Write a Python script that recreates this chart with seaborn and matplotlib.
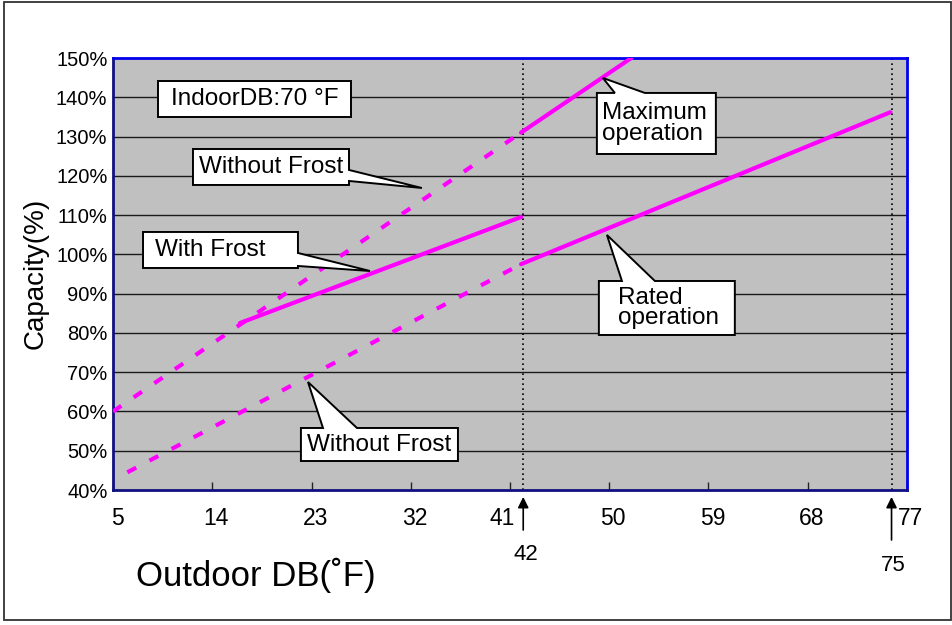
import numpy as np
import pandas as pd
import matplotlib
matplotlib.use('Agg')
import matplotlib.pyplot as plt
import matplotlib.transforms as mtransforms
from matplotlib.patches import Polygon, Rectangle
import seaborn as sns

# ---------data
with_frost_x = [16.5, 42]
with_frost_y = [82.5, 109.5]
max_wo_frost_x = [5, 42]          # dashed, extends the maximum line
max_wo_frost_y = [60, 131]
max_op_x = [42, 52]
max_op_y = [131, 150]
rated_wo_frost_x = [6.3, 42]      # dashed, lower
rated_wo_frost_y = [44.5, 97.5]
rated_op_x = [42, 75.5]
rated_op_y = [97.5, 136.2]

x_ticks = [5, 14, 23, 32, 41, 50, 59, 68, 77]
y_ticks = [40, 50, 60, 70, 80, 90, 100, 110, 120, 130, 140, 150]
mark_x = [42.2, 75.6]
mark_labels = ['42', '75']

MAGENTA = '#ff00ff'

sns.set_theme(style='white')
plt.rcParams['font.family'] = ['Liberation Sans', 'DejaVu Sans']
plt.rcParams['text.color'] = 'black'
plt.rcParams['xtick.color'] = 'black'
plt.rcParams['ytick.color'] = 'black'

fig = plt.figure(figsize=(9.53, 6.25), dpi=100)
ax = fig.add_axes([0.1186, 0.216, 0.8331, 0.6912])
ax.set_facecolor('#c0c0c0')
ax.set_xlim(5, 77)
ax.set_ylim(40, 150)

# grid
for y in y_ticks[1:-1]:
    ax.axhline(y, color='#1a1a1a', lw=1.0, zorder=1)
for xm in mark_x:
    ax.axvline(xm, color='black', lw=1.2, ls=(0, (1, 2)), zorder=1)

# ---------lines
dash = (0, (2.4, 3.6))
sns.lineplot(x=max_wo_frost_x, y=max_wo_frost_y, ax=ax, color=MAGENTA, lw=3, linestyle=dash, zorder=3)
sns.lineplot(x=rated_wo_frost_x, y=rated_wo_frost_y, ax=ax, color=MAGENTA, lw=3, linestyle=dash, zorder=3)
for xs, ys in [(with_frost_x, with_frost_y), (max_op_x, max_op_y), (rated_op_x, rated_op_y)]:
    sns.lineplot(x=xs, y=ys, ax=ax, color=MAGENTA, lw=3, solid_capstyle='round', zorder=3)


# ---------callouts: box + wedge pointer as one outline
def callout(text, box, side=None, base=None, tip=None, tx=None, ha='center', ls=1.0):
    x0, x1, y0, y1 = box
    pts = [(x0, y0), (x1, y0)]
    if side == 'right':
        pts += [(x1, base[0]), tip, (x1, base[1])]
    pts += [(x1, y1)]
    if side == 'top':
        pts += [(base[1], y1), tip, (base[0], y1)]
    pts += [(x0, y1)]
    ax.add_patch(Polygon(pts, closed=True, facecolor='white', edgecolor='black',
                         lw=1.4, zorder=5, clip_on=False))
    if tx is None:
        tx = (x0 + x1) / 2
    ax.text(tx, (y0 + y1) / 2, text, ha=ha, va='center', fontsize=17.5,
            linespacing=ls, zorder=6)


callout('IndoorDB:70 °F', (9.08, 26.58, 134.98, 144.15))
callout('Without Frost', (12.25, 26.40, 117.67, 126.83), 'right', (118.69, 121.49), (33.01, 116.9))
callout('With Frost', (7.72, 21.77, 96.53, 105.70), 'right', (97.04, 100.35), (28.30, 95.77),
        tx=8.8, ha='left')
callout('Without Frost', (22.04, 36.28, 47.38, 55.79), 'top', (24.04, 27.12), (22.68, 67.50))
callout('Maximum\noperation', (48.88, 59.67, 125.56, 141.10), 'top', (50.51, 53.23), (49.42, 144.92),
        tx=49.33, ha='left', ls=0.9)
callout('Rated\noperation', (49.06, 61.39, 79.47, 93.22), 'top', (51.15, 54.14), (49.79, 104.94),
        tx=50.78, ha='left', ls=0.9)

# ---------axes styling
for s in ax.spines.values():
    s.set_color('#0000ee')
    s.set_linewidth(2)
ax.spines['left'].set_color('#101080')
ax.spines['bottom'].set_color('#101080')

ax.set_xticks(x_ticks)
ax.set_xticklabels([str(v) for v in x_ticks], fontsize=16.5)
ax.set_yticks(y_ticks)
ax.set_yticklabels([f'{v}%' for v in y_ticks], fontsize=14.5)
ax.tick_params(axis='x', direction='in', length=6, width=1, color='#222222', pad=12, bottom=True)
ax.tick_params(axis='y', length=0, pad=4, left=True)
ax.grid(False)
for lab in ax.get_xticklabels():
    dx = -0.08 if lab.get_text() == '41' else 0.04
    lab.set_transform(lab.get_transform() + mtransforms.ScaledTranslation(dx, 0, fig.dpi_scale_trans))

# arrows marking 42 and 75 under the axis
trans = ax.get_xaxis_transform()
for xm, lab, tail, ty in zip(mark_x, mark_labels, [-0.0926, -0.1157], [-0.1435, -0.169]):
    ax.annotate('', xy=(xm, -0.016), xytext=(xm, tail), xycoords=trans, textcoords=trans,
                arrowprops=dict(arrowstyle='-|>', color='black', lw=1.2, mutation_scale=16,
                                shrinkA=0, shrinkB=0), annotation_clip=False)
    ax.text(xm + 0.2, ty - 0.005, lab, transform=trans, ha='center', va='center', fontsize=16)

ax.set_xlabel('')
ax.set_ylabel('')
fig.text(0.268, 0.08, 'Outdoor DB(˚F)', ha='center', va='center', fontsize=25)
fig.text(0.037, 0.563, 'Capacity(%)', ha='center', va='center', rotation=90, fontsize=20)

# outer frame
fig.add_artist(Rectangle((0.004, 0.008), 0.994, 0.989, transform=fig.transFigure,
                         fill=False, edgecolor='#333333', lw=1.3))

fig.savefig('out.png', dpi=100)
